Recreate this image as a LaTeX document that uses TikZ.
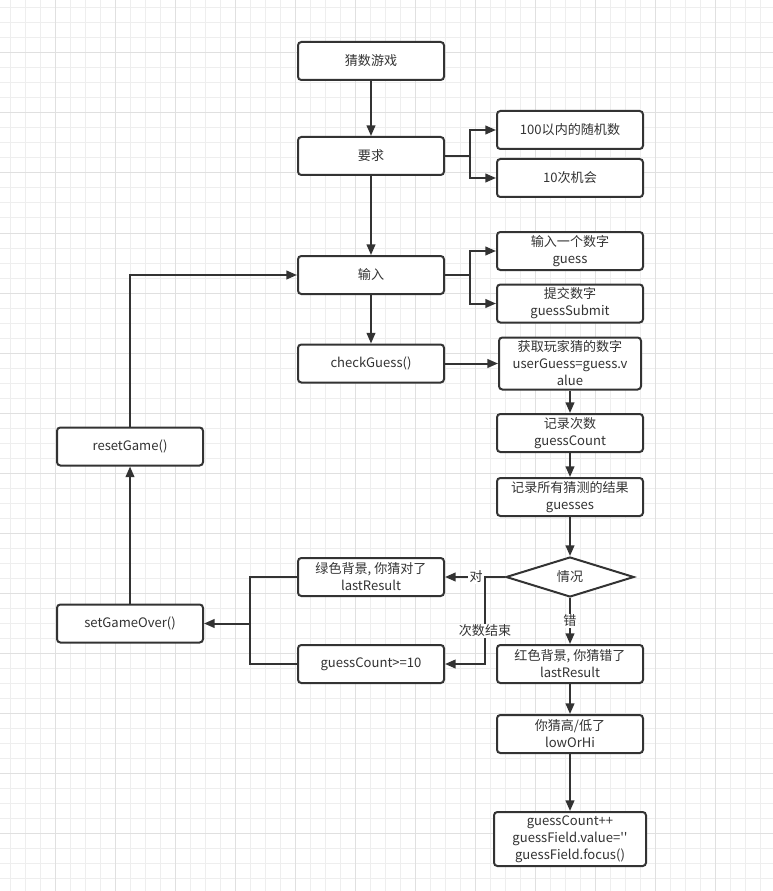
\documentclass[tikz,border=0pt]{standalone}
\usepackage{fontspec}
\newfontfamily\cjk{Noto Sans CJK SC}
\usetikzlibrary{arrows.meta,shapes.geometric}
\definecolor{ink}{HTML}{333333}
\definecolor{gridminor}{HTML}{EEEEEE}
\definecolor{gridmajor}{HTML}{E0E0E0}
\begin{document}
\begin{tikzpicture}[x=0.75pt,y=-0.75pt,
  box/.style={draw=ink, line width=1.5pt, rounded corners=2.5pt, fill=white,
    minimum width=109.5pt, minimum height=28.5pt, inner sep=1pt,
    align=center, text=ink, font=\cjk\fontsize{9.8}{12.75}\selectfont},
  dia/.style={draw=ink, line width=1.5pt, fill=white, shape=diamond, aspect=3.2,
    minimum width=96pt, minimum height=30pt, inner sep=0pt,
    text=ink, font=\cjk\fontsize{9.8}{12.75}\selectfont},
  lab/.style={fill=white, inner sep=1pt, text=ink, font=\cjk\fontsize{9.8}{12.75}\selectfont},
  conn/.style={draw=ink, line width=1.5pt},
  arr/.style={conn, -{Triangle[length=8pt,width=6.5pt]}}
]
\useasboundingbox (0,0) rectangle (773,891);
\fill[white] (0,0) rectangle (773,891);
% grid
\foreach \x in {10,25,...,770} \draw[gridminor, line width=0.75pt] (\x,0) -- (\x,891);
\foreach \y in {8,23,...,890} \draw[gridminor, line width=0.75pt] (0,\y) -- (773,\y);
\foreach \x in {55,115,...,715} \draw[gridmajor, line width=0.75pt] (\x,0) -- (\x,891);
\foreach \y in {53,113,...,833} \draw[gridmajor, line width=0.75pt] (0,\y) -- (773,\y);

% nodes
\node[box] (game) at (371,61) {猜数游戏};
\node[box] (req) at (371,156) {要求};
\node[box] (r1) at (570,130) {100以内的随机数};
\node[box] (r2) at (570,178) {10次机会};
\node[box] (inp) at (371,275) {输入};
\node[box] (i1) at (570,251) {输入一个数字\\guess};
\node[box] (i2) at (570,303.5) {提交数字\\guessSubmit};
\node[box] (check) at (371,363.5) {checkGuess()};
\node[box, minimum width=106.5pt, minimum height=39pt] (get) at (570,363.5) {获取玩家猜的数字\\userGuess=guess.v\\alue};
\node[box] (cnt1) at (570,433) {记录次数\\guessCount};
\node[box] (all) at (570,497) {记录所有猜测的结果\\guesses};
\node[dia] (sit) at (570,577) {情况};
\node[box] (green) at (371,577) {绿色背景, 你猜对了\\lastResult};
\node[box] (ge) at (371,664) {guessCount>=10};
\node[box] (red) at (570,664) {红色背景, 你猜错了\\lastResult};
\node[box] (hilo) at (570,734) {你猜高/低了\\lowOrHi};
\node[box, minimum width=114pt, minimum height=40.5pt] (fin) at (570,839) {guessCount++\\guessField.value=''\\guessField.focus()};
\node[box] (over) at (130,623.5) {setGameOver()};
\node[box] (reset) at (130,446.5) {resetGame()};

% junctions
\coordinate (jreq) at (470,156);
\coordinate (jinp) at (470,275);
\coordinate (jsit) at (485,577);
\coordinate (jl1) at (250,577);
\coordinate (jl2) at (250,664);
\coordinate (jlm) at (250,623.5);

% connectors
\draw[arr] (game) -- (req);
\draw[conn] (req.east) -- (jreq);
\draw[arr] (jreq) |- (r1);
\draw[arr] (jreq) |- (r2);
\draw[arr] (req) -- (inp);
\draw[conn] (inp.east) -- (jinp);
\draw[arr] (jinp) |- (i1);
\draw[arr] (jinp) |- (i2);
\draw[arr] (inp) -- (check);
\draw[arr] (check) -- (get);
\draw[arr] (get) -- (cnt1);
\draw[arr] (cnt1) -- (all);
\draw[arr] (all) -- (sit);
\draw[conn] (sit.west) -- (jsit);
\draw[arr] (jsit) -- node[lab, pos=0.22]{对} (green);
\draw[arr] (jsit) |- node[lab, pos=0.31]{次数结束} (ge);
\draw[arr] (sit) -- node[lab]{错} (red);
\draw[arr] (red) -- (hilo);
\draw[arr] (hilo) -- (fin);
\draw[conn] (green.west) -- (jl1) -- (jl2) -- (ge.west);
\draw[arr] (jlm) -- (over);
\draw[arr] (over) -- (reset);
\draw[arr] (reset.north) |- (inp);
\end{tikzpicture}
\end{document}
